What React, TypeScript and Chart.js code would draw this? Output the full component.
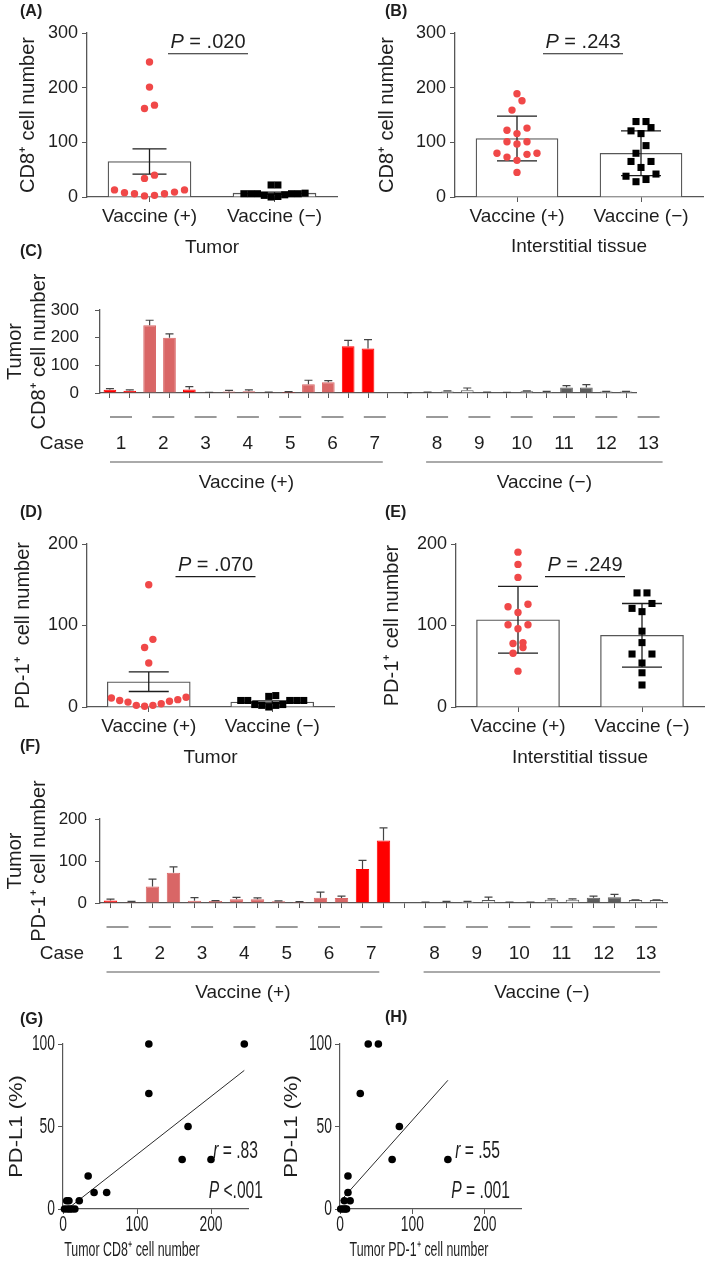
import React, { useEffect, useRef } from 'react';
import { Chart, registerables } from 'chart.js';

Chart.register(...registerables);

const SANS = '"Liberation Sans", Arial, Helvetica, sans-serif';
const TXT = '#1e1e1e';
const AXC = '#575757';
const DOT_RED = '#f04848';
const BAR_RED = '#ff0000';
const BAR_SALMON = '#d96666';
const BAR_DARK = '#5c5c5c';
const BAR_WHITE = '#f6f6f6';

/* ------------------------------- data ------------------------------- */
const GROUPS = ['Vaccine (+)', 'Vaccine (\u2212)'];
const CASES_POS = ['1', '2', '3', '4', '5', '6', '7'];
const CASES_NEG = ['8', '9', '10', '11', '12', '13'];

// (A) tumour CD8+ cell number
const A_POS = [247, 201, 162, 168, 40, 34, 13, 9, 6, 2, 3, 6, 8, 13];
const A_NEG = [6, 6, 4, 22, 1, 0, 3, 22, 6, 6, 6, 7];
const A_MEAN = [65, 7];
const A_ERR = [23, 2];
const A_P = '.020';

// (B) interstitial CD8+ cell number
const B_POS = [189, 176, 159, 126, 122, 116, 101, 97, 101, 80, 73, 67, 78, 80, 45];
const B_NEG = [138, 138, 121, 127, 116, 94, 80, 65, 65, 54, 38, 42, 28, 32];
const B_MEAN = [107, 80];
const B_ERR = [41, 41];
const B_P = '.243';

// (C) tumour CD8+ per case (two values per case)
const C_POS = [12, 8, 245, 200, 13, 1, 5, 6, 2.4, 3.6, 32, 39, 169, 161];
const C_POS_ERR = [3.5, 3, 18, 14, 10, 1, 4.5, 5, 1, 1.5, 14, 6, 21, 32];
const C_NEG = [1, 2, 5, 9.5, 2, 1, 6, 4, 20, 20, 5, 5];
const C_NEG_ERR = [0.5, 1, 3, 8.5, 1, 1, 2, 2, 7, 10, 1, 1];

// (D) tumour PD-1+ cell number
const D_POS = [150, 83, 73, 54, 11, 8, 6, 2, 1, 2, 4, 7, 9, 12];
const D_NEG = [13, 8, 8, 3, 2, 14, 0, 2, 3, 8, 8, 8];
const D_MEAN = [31, 6];
const D_ERR = [12, 1.5];
const D_P = '.070';

// (E) interstitial PD-1+ cell number
const E_POS = [190, 175, 159, 126, 123, 116, 101, 101, 96, 79, 78, 73, 66, 44];
const E_NEG = [140, 140, 127, 121, 117, 93, 79, 65, 65, 54, 42, 27];
const E_MEAN = [107, 88];
const E_ERR = [41, 39];
const E_P = '.249';

// (F) tumour PD-1+ per case
const F_POS = [6, 1.5, 39, 72, 5.5, 4.7, 8.7, 8.7, 4, 2.4, 12.6, 11.8, 81, 149];
const F_POS_ERR = [3, 2.5, 18, 14, 7.5, 1, 4.5, 3.5, 1, 1, 13.5, 4.7, 20.5, 30];
const F_NEG = [1.5, 3, 3, 7, 1.5, 1.5, 8, 8, 12.6, 13.4, 7, 7];
const F_NEG_ERR = [0.5, 1, 1, 7, 0.5, 0.5, 2, 2, 4, 7, 0.5, 0.5];

// (G) PD-L1 vs tumour CD8+
const G_X = [116, 245, 116, 169, 161, 200, 34, 42, 59, 22, 5, 8, 2, 6, 9, 12, 16];
const G_Y = [100, 100, 70, 50, 30, 30, 20, 10, 10, 5, 5, 5, 0, 0, 0, 0, 0];
const G_FIT_X = [6, 245];
const G_FIT_Y = [0, 84];
const G_R = '.83';
const G_P = ' <.001';

// (H) PD-L1 vs tumour PD-1+
const H_X = [39, 53, 28, 82, 72, 149, 11, 11, 6, 14, 1, 4, 7, 9];
const H_Y = [100, 100, 70, 50, 30, 30, 20, 10, 5, 5, 0, 0, 0, 0];
const H_FIT_X = [1, 149];
const H_FIT_Y = [5, 78];
const H_R = '.55';
const H_P = ' = .001';

const CORR_X_TICKS = [0, 100, 200];
const CORR_Y_TICKS = [0, 50, 100];

/* ------------------------------- styles ------------------------------- */
const C_POS_COLORS = [BAR_RED, BAR_SALMON, BAR_RED, BAR_SALMON, BAR_RED, BAR_SALMON, BAR_RED];
const F_POS_COLORS = [BAR_RED, BAR_SALMON, BAR_SALMON, BAR_SALMON, BAR_SALMON, BAR_SALMON, BAR_RED];
const NEG_COLORS = [BAR_DARK, BAR_WHITE, BAR_DARK, BAR_WHITE, BAR_DARK, BAR_WHITE];

/* ------------------------------- helpers ------------------------------- */
type Pt = { x: number; y: number };
type Part = { t: string; italic?: boolean; bold?: boolean };

const font = (size: number) => ({ family: SANS, size });

function swarm(values: number[], center: number, pxPerY: number, pxPerX: number, gapPx: number, binPx = 9.5): Pt[] {
  const sorted = [...values].sort((a, b) => a - b);
  const rows: number[][] = [];
  let row: number[] = [];
  let start = 0;
  sorted.forEach((v) => {
    if (row.length && (v - start) * pxPerY > binPx) {
      rows.push(row);
      row = [];
    }
    if (!row.length) start = v;
    row.push(v);
  });
  if (row.length) rows.push(row);
  const pts: Pt[] = [];
  rows.forEach((r) => {
    const n = r.length;
    r.forEach((v, i) => {
      let slot: number;
      if (n % 2) slot = i === 0 ? 0 : (i % 2 ? -1 : 1) * Math.ceil(i / 2);
      else slot = (i % 2 ? 1 : -1) * (Math.floor(i / 2) + 0.5);
      pts.push({ x: center + (slot * gapPx) / pxPerX, y: v });
    });
  });
  return pts;
}

function drawRich(ctx: CanvasRenderingContext2D, parts: Part[], x: number, y: number, size: number,
  align: 'left' | 'center' | 'right' = 'center', sx = 1, color = TXT) {
  ctx.save();
  ctx.fillStyle = color;
  ctx.textBaseline = 'middle';
  ctx.textAlign = 'left';
  const fonts = parts.map((p) => `${p.italic ? 'italic ' : ''}${p.bold ? 'bold ' : ''}${size}px ${SANS}`);
  let w = 0;
  const ws = parts.map((p, i) => {
    ctx.font = fonts[i];
    const m = ctx.measureText(p.t).width;
    w += m;
    return m;
  });
  let cx = align === 'left' ? 0 : align === 'center' ? -w / 2 : -w;
  ctx.translate(x, y);
  ctx.scale(sx, 1);
  parts.forEach((p, i) => {
    ctx.font = fonts[i];
    ctx.fillText(p.t, cx, 0);
    cx += ws[i];
  });
  ctx.restore();
}

function hline(ctx: CanvasRenderingContext2D, x1: number, x2: number, y: number, color = AXC, lw = 1.2) {
  ctx.save();
  ctx.strokeStyle = color;
  ctx.lineWidth = lw;
  ctx.beginPath();
  ctx.moveTo(x1, y);
  ctx.lineTo(x2, y);
  ctx.stroke();
  ctx.restore();
}

function errorBarPlugin(means: (number | null)[], errs: (number | null)[], both: boolean, cap: number, color: string, lw: number) {
  return {
    id: 'errorBars',
    afterDatasetDraw(chart: any, args: any) {
      if (args.index !== 0) return;
      const meta = chart.getDatasetMeta(0);
      const ys = chart.scales.y;
      const ctx = chart.ctx as CanvasRenderingContext2D;
      ctx.save();
      ctx.strokeStyle = color;
      ctx.lineWidth = lw;
      meta.data.forEach((el: any, i: number) => {
        const m = means[i];
        const e = errs[i];
        if (m == null || e == null) return;
        const x = el.x;
        const yt = ys.getPixelForValue(m + e);
        const yb = ys.getPixelForValue(both ? m - e : m);
        ctx.beginPath();
        ctx.moveTo(x, yb);
        ctx.lineTo(x, yt);
        ctx.moveTo(x - cap / 2, yt);
        ctx.lineTo(x + cap / 2, yt);
        if (both) {
          ctx.moveTo(x - cap / 2, yb);
          ctx.lineTo(x + cap / 2, yb);
        }
        ctx.stroke();
      });
      ctx.restore();
    },
  };
}

/* ------------------------------- dot + bar panels ------------------------------- */
interface DotOpts {
  W: number; H: number;
  area: { l: number; t: number; r: number; b: number };
  axisBottom: number;
  yMax: number;
  pos: number[]; neg: number[]; mean: number[]; err: number[];
  posGap: number; negGap: number;
  p: string; pY: number; pDx: number;
  yTitle: string; yTitleX: number; xTitle: string;
  letter: string; letterXY: [number, number];
  barW: number; cap: number;
}

function dotPanel(o: DotOpts): any {
  const pxX = (o.area.r - o.area.l) / 2;
  const pxY = (o.area.b - o.area.t) / o.yMax;
  return {
    type: 'bar',
    data: {
      datasets: [
        { type: 'bar', data: o.mean.map((v, i) => ({ x: i, y: v })), backgroundColor: '#ffffff', borderColor: AXC, borderWidth: 1.3, barThickness: o.barW, order: 5 },
        { type: 'scatter', data: swarm(o.pos, 0, pxY, pxX, o.posGap), pointStyle: 'circle', pointRadius: 3.7, backgroundColor: DOT_RED, borderWidth: 0, clip: false, order: 1 },
        { type: 'scatter', data: swarm(o.neg, 1, pxY, pxX, o.negGap), pointStyle: 'rect', pointRadius: 5, backgroundColor: '#000000', borderWidth: 0, clip: false, order: 0 },
      ],
    },
    options: {
      responsive: false,
      animation: false,
      events: [],
      layout: { padding: { left: 0, top: o.area.t, right: o.W - o.area.r, bottom: o.H - o.axisBottom } },
      plugins: { legend: { display: false }, tooltip: { enabled: false } },
      scales: {
        x: {
          type: 'linear', min: -0.5, max: 1.5, offset: false,
          afterBuildTicks: (s: any) => { s.ticks = GROUPS.map((_, i) => ({ value: i })); },
          afterFit: (s: any) => { s.height = o.axisBottom - o.area.b; },
          ticks: { callback: (v: any) => GROUPS[v] ?? '', font: font(19), color: TXT, padding: 3, maxRotation: 0, autoSkip: false },
          grid: { drawOnChartArea: false, drawTicks: true, tickLength: 5, color: AXC, offset: false },
          border: { display: true, color: AXC, width: 1.3 },
          title: { display: true, text: o.xTitle, font: font(19), color: TXT, padding: { top: 0, bottom: 0 } },
        },
        y: {
          type: 'linear', min: 0, max: o.yMax,
          afterFit: (s: any) => { s.width = o.area.l; },
          ticks: { stepSize: 100, font: font(18), color: TXT, padding: 4 },
          grid: { drawOnChartArea: false, tickLength: 5, color: AXC },
          border: { display: true, color: AXC, width: 1.3 },
          title: { display: true, text: o.yTitle, font: font(20), color: TXT, padding: { top: o.yTitleX - 12, bottom: 0 } },
        },
      },
    },
    plugins: [
      errorBarPlugin(o.mean, o.err, true, o.cap, '#1e1e1e', 1.3),
      {
        id: 'annot',
        afterDraw(chart: any) {
          const ctx = chart.ctx as CanvasRenderingContext2D;
          const xs = chart.scales.x;
          const ys = chart.scales.y;
          drawRich(ctx, [{ t: o.letter, bold: true }], o.letterXY[0], o.letterXY[1], 16, 'left');
          const cx = xs.getPixelForValue(0.5) + o.pDx;
          const ly = ys.getPixelForValue(o.pY);
          hline(ctx, cx - 40, cx + 40, ly, '#1e1e1e', 1.2);
          drawRich(ctx, [{ t: 'P', italic: true }, { t: ' = ' + o.p }], cx, ly - 11, 20, 'center');
        },
      },
    ],
  };
}

/* ------------------------------- per-case bar panels ------------------------------- */
interface CaseOpts {
  W: number; H: number;
  area: { l: number; t: number; r: number; b: number };
  yMax: number; tickPad: number;
  pos: number[]; posErr: number[]; neg: number[]; negErr: number[];
  posColors: string[];
  yTitle2: string;
  letter: string;
  table: { x0: number; step: number; gap: number; shortY: number; numY: number; longY: number; groupY: number; caseX: number };
}

function casePanel(o: CaseOpts): any {
  const labels: string[] = [];
  CASES_POS.forEach((c) => labels.push(c + 'a', c + 'b'));
  labels.push('');
  CASES_NEG.forEach((c) => labels.push(c + 'a', c + 'b'));
  const values: (number | null)[] = [...o.pos, null, ...o.neg];
  const errs: (number | null)[] = [...o.posErr, null, ...o.negErr];
  const fills: string[] = [];
  o.posColors.forEach((c) => fills.push(c, c));
  fills.push('rgba(0,0,0,0)');
  NEG_COLORS.forEach((c) => fills.push(c, c));
  const borders = fills.map((c) => (c === BAR_WHITE ? AXC : c));
  const t = o.table;
  return {
    type: 'bar',
    data: {
      labels,
      datasets: [{ data: values, backgroundColor: fills, borderColor: borders, borderWidth: 1, barPercentage: 0.64, categoryPercentage: 1 }],
    },
    options: {
      responsive: false,
      animation: false,
      events: [],
      layout: { padding: { left: 0, top: o.area.t, right: o.W - o.area.r, bottom: o.H - o.area.b - 10 } },
      plugins: { legend: { display: false }, tooltip: { enabled: false } },
      scales: {
        x: {
          type: 'category', offset: true,
          afterFit: (s: any) => { s.height = 10; },
          ticks: { display: false },
          grid: { drawOnChartArea: false, drawTicks: true, tickLength: 5, color: AXC, offset: false },
          border: { display: true, color: AXC, width: 1.3 },
        },
        y: {
          type: 'linear', min: 0, max: o.yMax,
          afterFit: (s: any) => { s.width = o.area.l; },
          ticks: { stepSize: 100, font: font(17), color: TXT, padding: o.tickPad },
          grid: { drawOnChartArea: false, tickLength: 5, color: AXC },
          border: { display: true, color: AXC, width: 1.3 },
          title: { display: true, text: ['Tumor', o.yTitle2], font: font(20), color: TXT, padding: { top: 3, bottom: 0 } },
        },
      },
    },
    plugins: [
      errorBarPlugin(values, errs, false, 8, '#444444', 1.2),
      {
        id: 'caseTable',
        afterDraw(chart: any) {
          const ctx = chart.ctx as CanvasRenderingContext2D;
          drawRich(ctx, [{ t: o.letter, bold: true }], 20, 12, 16, 'left');
          const all = [...CASES_POS, ...CASES_NEG];
          const centers = all.map((_, i) => t.x0 + i * t.step + (i >= CASES_POS.length ? t.gap : 0));
          centers.forEach((cx, i) => {
            hline(ctx, cx - 11, cx + 11, t.shortY, AXC, 1.2);
            drawRich(ctx, [{ t: all[i] }], cx, t.numY, 19, 'center');
          });
          drawRich(ctx, [{ t: 'Case' }], t.caseX, t.numY, 19, 'center');
          const pc = centers.slice(0, CASES_POS.length);
          const nc = centers.slice(CASES_POS.length);
          const p1 = pc[0] - 11, p2 = pc[pc.length - 1] + 8;
          const n1 = nc[0] - 11, n2 = nc[nc.length - 1] + 14;
          hline(ctx, p1, p2, t.longY, AXC, 1.2);
          hline(ctx, n1, n2, t.longY, AXC, 1.2);
          drawRich(ctx, [{ t: GROUPS[0] }], (p1 + p2) / 2, t.groupY, 19, 'center');
          drawRich(ctx, [{ t: GROUPS[1] }], (n1 + n2) / 2, t.groupY, 19, 'center');
        },
      },
    ],
  };
}

/* ------------------------------- correlation panels ------------------------------- */
interface CorrOpts {
  W: number; H: number;
  area: { l: number; t: number; r: number; b: number };
  x: number[]; y: number[]; fitX: number[]; fitY: number[];
  letter: string; letterXY: [number, number];
  xTitle: string; xTitleX: number; xTitleY: number;
  yTitleX: number;
  r: string; rXY: [number, number];
  p: string; pXY: [number, number];
}

function corrPanel(o: CorrOpts): any {
  return {
    type: 'scatter',
    data: {
      datasets: [
        { type: 'line', data: o.fitX.map((x, i) => ({ x, y: o.fitY[i] })), borderColor: '#2a2a2a', borderWidth: 1, pointRadius: 0, fill: false, clip: false, order: 1 },
        { type: 'scatter', data: o.x.map((x, i) => ({ x, y: o.y[i] })), pointRadius: 3.8, backgroundColor: '#000000', borderWidth: 0, clip: false, order: 0 },
      ],
    },
    options: {
      responsive: false,
      animation: false,
      events: [],
      layout: { padding: { left: 0, top: o.area.t, right: o.W - o.area.r, bottom: o.H - o.area.b - 12 } },
      plugins: { legend: { display: false }, tooltip: { enabled: false } },
      scales: {
        x: {
          type: 'linear', min: 0, max: 250,
          afterBuildTicks: (s: any) => { s.ticks = CORR_X_TICKS.map((v) => ({ value: v })); },
          afterFit: (s: any) => { s.height = 12; },
          ticks: { display: false },
          grid: { drawOnChartArea: false, drawTicks: true, tickLength: 5, color: AXC },
          border: { display: true, color: AXC, width: 1.2 },
        },
        y: {
          type: 'linear', min: 0, max: 100,
          afterBuildTicks: (s: any) => { s.ticks = CORR_Y_TICKS.map((v) => ({ value: v })); },
          afterFit: (s: any) => { s.width = o.area.l; },
          ticks: { display: false },
          grid: { drawOnChartArea: false, drawTicks: true, tickLength: 5, color: AXC },
          border: { display: true, color: AXC, width: 1.2 },
        },
      },
    },
    plugins: [
      {
        id: 'corrText',
        afterDraw(chart: any) {
          const ctx = chart.ctx as CanvasRenderingContext2D;
          const xs = chart.scales.x;
          const ys = chart.scales.y;
          const a = chart.chartArea;
          drawRich(ctx, [{ t: o.letter, bold: true }], o.letterXY[0], o.letterXY[1], 16, 'left');
          xs.ticks.forEach((tk: any) => drawRich(ctx, [{ t: String(tk.value) }], xs.getPixelForValue(tk.value), a.bottom + 16, 22, 'center', 0.63));
          ys.ticks.forEach((tk: any) => drawRich(ctx, [{ t: String(tk.value) }], a.left - 8, ys.getPixelForValue(tk.value), 22, 'right', 0.63));
          drawRich(ctx, [{ t: o.xTitle }], o.xTitleX, o.xTitleY, 20, 'center', 0.62);
          ctx.save();
          ctx.translate(o.yTitleX, (a.top + a.bottom) / 2);
          ctx.scale(0.8, 1);
          ctx.rotate(-Math.PI / 2);
          ctx.font = `22px ${SANS}`;
          ctx.fillStyle = TXT;
          ctx.textAlign = 'center';
          ctx.textBaseline = 'middle';
          ctx.fillText('PD-L1 (%)', 0, 0);
          ctx.restore();
          drawRich(ctx, [{ t: 'r', italic: true }, { t: ' = ' + o.r }], o.rXY[0], o.rXY[1], 23, 'right', 0.68);
          drawRich(ctx, [{ t: 'P', italic: true }, { t: o.p }], o.pXY[0], o.pXY[1], 23, 'right', 0.68);
        },
      },
    ],
  };
}

/* ------------------------------- panel configs ------------------------------- */
const makeA = () => dotPanel({
  W: 350, H: 262, area: { l: 87, t: 33, r: 337, b: 197 }, axisBottom: 259, yMax: 300,
  pos: A_POS, neg: A_NEG, mean: A_MEAN, err: A_ERR, posGap: 10, negGap: 6.8,
  p: A_P, pY: 262, pDx: -4, yTitle: 'CD8\u207A cell number', yTitleX: 28, xTitle: 'Tumor',
  letter: '(A)', letterXY: [20, 12], barW: 83, cap: 34,
});
const makeB = () => dotPanel({
  W: 369, H: 262, area: { l: 115, t: 33, r: 363, b: 197 }, axisBottom: 258, yMax: 300,
  pos: B_POS, neg: B_NEG, mean: B_MEAN, err: B_ERR, posGap: 10, negGap: 10,
  p: B_P, pY: 262, pDx: 4, yTitle: 'CD8\u207A cell number', yTitleX: 47, xTitle: 'Interstitial tissue',
  letter: '(B)', letterXY: [45, 12], barW: 82, cap: 40,
});
const makeD = () => dotPanel({
  W: 350, H: 272, area: { l: 87, t: 44, r: 334, b: 207 }, axisBottom: 269, yMax: 200,
  pos: D_POS, neg: D_NEG, mean: D_MEAN, err: D_ERR, posGap: 8.3, negGap: 7,
  p: D_P, pY: 160, pDx: 5, yTitle: 'PD-1\u207A  cell number', yTitleX: 23, xTitle: 'Tumor',
  letter: '(D)', letterXY: [20, 13], barW: 83, cap: 40,
});
const makeE = () => dotPanel({
  W: 369, H: 272, area: { l: 116, t: 44, r: 365, b: 207 }, axisBottom: 269, yMax: 200,
  pos: E_POS, neg: E_NEG, mean: E_MEAN, err: E_ERR, posGap: 10, negGap: 10,
  p: E_P, pY: 160, pDx: 5, yTitle: 'PD-1\u207A cell number', yTitleX: 52, xTitle: 'Interstitial tissue',
  letter: '(E)', letterXY: [45, 13], barW: 83, cap: 40,
});
const makeC = () => casePanel({
  W: 709, H: 260, area: { l: 100, t: 70, r: 636, b: 153 }, yMax: 300, tickPad: 16,
  pos: C_POS, posErr: C_POS_ERR, neg: C_NEG, negErr: C_NEG_ERR, posColors: C_POS_COLORS,
  yTitle2: 'CD8\u207A cell number', letter: '(C)',
  table: { x0: 121, step: 42.3, gap: 20, shortY: 177, numY: 204, longY: 222, groupY: 243, caseX: 62 },
});
const makeF = () => casePanel({
  W: 709, H: 270, area: { l: 100, t: 84, r: 667, b: 168 }, yMax: 200, tickPad: 8,
  pos: F_POS, posErr: F_POS_ERR, neg: F_NEG, negErr: F_NEG_ERR, posColors: F_POS_COLORS,
  yTitle2: 'PD-1\u207A cell number', letter: '(F)',
  table: { x0: 117.5, step: 42.3, gap: 21, shortY: 192, numY: 219, longY: 237, groupY: 258, caseX: 62 },
});
const makeG = () => corrPanel({
  W: 275, H: 262, area: { l: 63, t: 44, r: 248, b: 209 },
  x: G_X, y: G_Y, fitX: G_FIT_X, fitY: G_FIT_Y, letter: '(G)', letterXY: [20, 20],
  xTitle: 'Tumor CD8\u207A cell number', xTitleX: 132, xTitleY: 250, yTitleX: 17,
  r: G_R, rXY: [258, 152], p: G_P, pXY: [263, 192],
});
const makeH = () => corrPanel({
  W: 434, H: 262, area: { l: 65, t: 44, r: 246, b: 209 },
  x: H_X, y: H_Y, fitX: H_FIT_X, fitY: H_FIT_Y, letter: '(H)', letterXY: [110, 18],
  xTitle: 'Tumor PD-1\u207A cell number', xTitleX: 144, xTitleY: 250, yTitleX: 17,
  r: H_R, rXY: [225, 152], p: H_P, pXY: [235, 192],
});

/* ------------------------------- components ------------------------------- */
function Panel({ left, top, width, height, make }: { left: number; top: number; width: number; height: number; make: () => any }) {
  const ref = useRef<HTMLCanvasElement>(null);
  useEffect(() => {
    if (!ref.current) return;
    const chart = new Chart(ref.current, make());
    return () => chart.destroy();
  }, []);
  return (
    <canvas
      ref={ref}
      width={width}
      height={height}
      style={{ position: 'absolute', left, top, width, height }}
    />
  );
}

export default function App() {
  return (
    <div style={{ position: 'absolute', left: 0, top: 0, width: 709, height: 1262, background: '#ffffff', overflow: 'hidden' }}>
      <Panel left={0} top={0} width={350} height={262} make={makeA} />
      <Panel left={340} top={0} width={369} height={262} make={makeB} />
      <Panel left={0} top={240} width={709} height={260} make={makeC} />
      <Panel left={0} top={500} width={350} height={272} make={makeD} />
      <Panel left={340} top={500} width={369} height={272} make={makeE} />
      <Panel left={0} top={735} width={709} height={270} make={makeF} />
      <Panel left={0} top={1000} width={275} height={262} make={makeG} />
      <Panel left={275} top={1000} width={434} height={262} make={makeH} />
    </div>
  );
}
